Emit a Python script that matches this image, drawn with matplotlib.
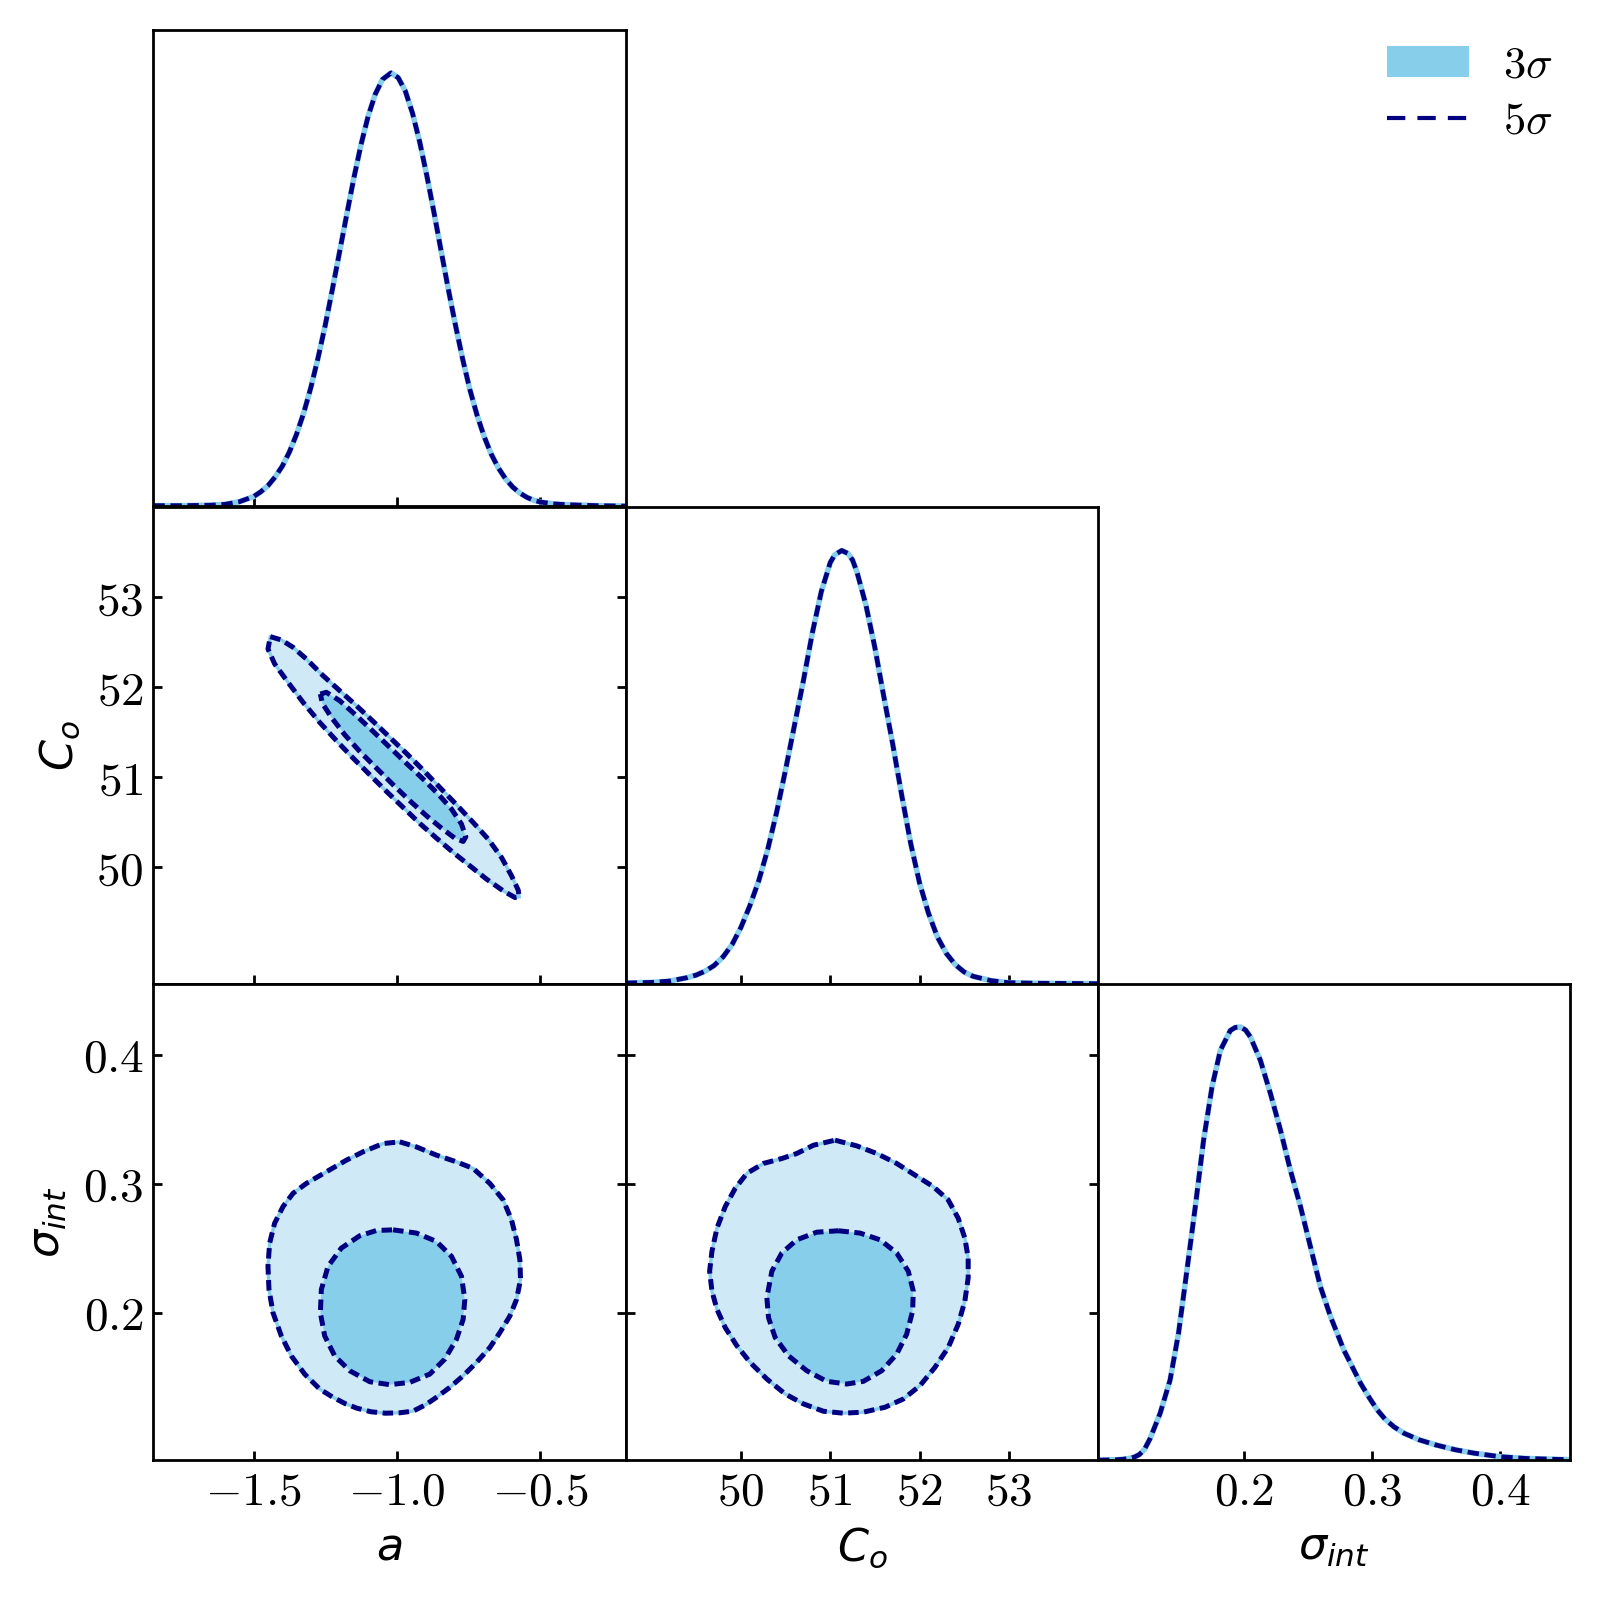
import matplotlib.pyplot as plt
from matplotlib.patches import Patch
from matplotlib.lines import Line2D

plt.rcParams['mathtext.fontset'] = 'cm'

# ---- 1D marginals (normalised to peak = 1) ----
a_vals = [-1.85, -1.75, -1.65, -1.60, -1.55, -1.50, -1.475, -1.45, -1.425, -1.40,
          -1.375, -1.35, -1.325, -1.30, -1.275, -1.25, -1.225, -1.20, -1.175, -1.15,
          -1.125, -1.10, -1.075, -1.05, -1.02, -0.995, -0.97, -0.945, -0.92, -0.895,
          -0.87, -0.845, -0.82, -0.795, -0.77, -0.745, -0.72, -0.695, -0.67, -0.645,
          -0.62, -0.595, -0.57, -0.545, -0.52, -0.495, -0.45, -0.40, -0.30, -0.20]
a_dens = [0.001, 0.001, 0.002, 0.004, 0.010, 0.022, 0.033, 0.047, 0.067, 0.092,
          0.125, 0.166, 0.215, 0.274, 0.342, 0.417, 0.50, 0.586, 0.672, 0.757,
          0.834, 0.90, 0.951, 0.985, 1.0, 0.989, 0.958, 0.907, 0.841, 0.763,
          0.678, 0.589, 0.501, 0.418, 0.34, 0.27, 0.211, 0.161, 0.12, 0.088,
          0.063, 0.044, 0.030, 0.020, 0.013, 0.009, 0.005, 0.003, 0.001, 0.0]

c_vals = [48.71, 49.0, 49.2, 49.4, 49.5, 49.6, 49.7, 49.8, 49.9, 50.0,
          50.1, 50.2, 50.3, 50.4, 50.5, 50.6, 50.7, 50.8, 50.9, 51.0,
          51.05, 51.129, 51.2, 51.25, 51.3, 51.4, 51.5, 51.6, 51.7, 51.8,
          51.9, 52.0, 52.1, 52.2, 52.3, 52.4, 52.5, 52.6, 52.8, 53.0,
          53.3, 54.0]
c_dens = [0.0015, 0.003, 0.006, 0.014, 0.02, 0.029, 0.042, 0.062, 0.09, 0.13,
          0.18, 0.238, 0.31, 0.396, 0.494, 0.597, 0.70, 0.81, 0.905, 0.972,
          0.99, 1.0, 0.993, 0.978, 0.95, 0.874, 0.776, 0.663, 0.553, 0.436,
          0.325, 0.233, 0.163, 0.108, 0.07, 0.044, 0.027, 0.017, 0.007, 0.0023,
          0.001, 0.0]

s_vals = [0.0857, 0.10, 0.105, 0.11, 0.114, 0.118, 0.122, 0.1264, 0.1342, 0.142,
          0.1486, 0.1552, 0.1617, 0.1682, 0.1748, 0.1813, 0.1891, 0.193, 0.197, 0.201,
          0.2048, 0.2126, 0.2205, 0.2283, 0.2361, 0.244, 0.2518, 0.2596, 0.2675, 0.2779,
          0.291, 0.298, 0.304, 0.31, 0.317, 0.325, 0.3367, 0.35, 0.365, 0.38,
          0.40, 0.42, 0.455]
s_dens = [0.0, 0.001, 0.002, 0.004, 0.007, 0.013, 0.025, 0.05, 0.108, 0.185,
          0.293, 0.439, 0.585, 0.739, 0.862, 0.946, 0.992, 0.999, 1.0, 0.993,
          0.977, 0.923, 0.846, 0.762, 0.669, 0.585, 0.492, 0.40, 0.331, 0.254,
          0.177, 0.143, 0.116, 0.095, 0.077, 0.062, 0.047, 0.035, 0.024, 0.016,
          0.008, 0.004, 0.001]

# ---- 2D contours: a vs C_o ----
ac_outer_a = [-1.4417, -1.4032, -1.3624, -1.3158, -1.2575, -1.1993, -1.141, -1.0827, -1.0245,
              -0.9662, -0.9079, -0.8496, -0.7913, -0.7331, -0.6806, -0.634, -0.599, -0.5757,
              -0.5722, -0.5874, -0.6282, -0.6865, -0.7447, -0.803, -0.8613, -0.9196, -0.9778,
              -1.0361, -1.0944, -1.1527, -1.2109, -1.2692, -1.3275, -1.3799, -1.4265, -1.4499]
ac_outer_c = [52.563, 52.526, 52.445, 52.315, 52.130, 51.963, 51.797, 51.623, 51.445,
              51.267, 51.082, 50.889, 50.697, 50.500, 50.315, 50.111, 49.908, 49.749,
              49.674, 49.667, 49.741, 49.871, 50.019, 50.167, 50.326, 50.489, 50.667,
              50.845, 51.030, 51.215, 51.408, 51.611, 51.834, 52.056, 52.260, 52.426]
ac_inner_a = [-1.2669, -1.2459, -1.1993, -1.141, -1.0827, -1.0245, -0.9662, -0.9079, -0.8554,
              -0.8088, -0.7739, -0.7587, -0.768, -0.7972, -0.8438, -0.8962, -0.9545, -1.0128,
              -1.0711, -1.1294, -1.1818, -1.2284, -1.2599]
ac_inner_c = [51.926, 51.945, 51.852, 51.686, 51.511, 51.334, 51.156, 50.982, 50.815,
              50.649, 50.482, 50.341, 50.289, 50.326, 50.437, 50.574, 50.741, 50.919,
              51.104, 51.289, 51.474, 51.667, 51.823]

# ---- 2D contours: a vs sigma_int ----
as_outer_a = [-0.9895, -0.9313, -0.8613, -0.7914, -0.7331, -0.6748, -0.6282, -0.5991, -0.5816,
              -0.5699, -0.5676, -0.5816, -0.6049, -0.6399, -0.6748, -0.7214, -0.7681, -0.8147,
              -0.8613, -0.90, -0.943, -0.99, -1.0395, -1.09, -1.1395, -1.18, -1.2227, -1.2692,
              -1.3217, -1.3683, -1.4033, -1.4324, -1.4464, -1.4499, -1.4441, -1.4266, -1.3974,
              -1.3625, -1.3159, -1.2459, -1.176, -1.1177, -1.0478]
as_outer_s = [0.3324, 0.3285, 0.3221, 0.3169, 0.3118, 0.3002, 0.2874, 0.2719, 0.2565,
              0.2411, 0.2257, 0.2102, 0.1974, 0.1845, 0.1730, 0.1614, 0.1511, 0.1421,
              0.1344, 0.1285, 0.1237, 0.1224, 0.1221, 0.1232, 0.1260, 0.1295, 0.1344, 0.1408,
              0.1524, 0.1665, 0.1820, 0.2000, 0.2180, 0.2359, 0.2539, 0.2694, 0.2822,
              0.2925, 0.3002, 0.3092, 0.3182, 0.3247, 0.3311]
as_inner_a = [-1.0128, -0.9312, -0.8613, -0.8089, -0.7739, -0.7623, -0.7681, -0.7914, -0.8322,
              -0.8846, -0.9546, -1.0245, -1.0944, -1.1643, -1.2168, -1.2518, -1.2669, -1.2634,
              -1.2401, -1.1935, -1.1294, -1.0711]
as_inner_s = [0.2642, 0.2617, 0.2552, 0.2437, 0.2282, 0.2102, 0.1948, 0.1794, 0.1640,
              0.1524, 0.1460, 0.1442, 0.1465, 0.1550, 0.1665, 0.1820, 0.2000, 0.2180,
              0.2359, 0.2501, 0.2596, 0.2637]

# ---- 2D contours: C_o vs sigma_int ----
cs_outer_c = [51.0544, 51.2967, 51.5203, 51.7439, 51.9489, 52.1539, 52.3216, 52.4334, 52.508,
              52.5452, 52.5452, 52.508, 52.4334, 52.3216, 52.1725, 52.0048, 51.8185, 51.6135,
              51.3712, 51.1476, 50.9239, 50.7003, 50.4953, 50.2903, 50.1040, 49.9549, 49.8244,
              49.7313, 49.6753, 49.6493, 49.6753, 49.7313, 49.8244, 49.9362, 50.0667, 50.2530,
              50.458, 50.6258, 50.8121]
cs_outer_s = [0.3337, 0.3293, 0.3234, 0.3157, 0.3067, 0.2977, 0.2874, 0.2732, 0.2578,
              0.2424, 0.2270, 0.2090, 0.1910, 0.1730, 0.1576, 0.1434, 0.1331, 0.1267,
              0.1229, 0.1221, 0.1236, 0.1293, 0.1370, 0.1486, 0.1614, 0.1743, 0.1884,
              0.2026, 0.2167, 0.2321, 0.2476, 0.2655, 0.2823, 0.2964, 0.3080, 0.3157,
              0.3195, 0.3234, 0.3298]
cs_inner_c = [51.0917, 51.3340, 51.5576, 51.7439, 51.8744, 51.9303, 51.9229, 51.8558, 51.7439,
              51.5762, 51.3712, 51.1849, 50.9613, 50.7376, 50.5326, 50.3836, 50.3090, 50.2903,
              50.3462, 50.4580, 50.6258, 50.8494]
cs_inner_s = [0.2635, 0.2617, 0.2565, 0.2463, 0.2321, 0.2167, 0.2013, 0.1833, 0.1678,
              0.1550, 0.1468, 0.1447, 0.1468, 0.1550, 0.1666, 0.1807, 0.1961, 0.2116,
              0.2321, 0.2463, 0.2565, 0.2624]

# axis ranges and ticks
a_lim = (-1.85, -0.20)
c_lim = (48.71, 54.0)
s_lim = (0.0857, 0.455)
a_ticks = [-1.5, -1.0, -0.5]
c_ticks = [50, 51, 52, 53]
s_ticks = [0.2, 0.3, 0.4]

light = '#cfeaf6'
mid = '#87ceeb'
navy = '#000080'
fs = 16
tfs = 17

fig = plt.figure(figsize=(8, 8), dpi=200)
x0, w, h = 0.0959, 0.2952, 0.2978
rows = [0.6837, 0.3852, 0.0874]


def style(ax, xt, xfmt, yt=None, yfmt=None, right=False):
    for s in ax.spines.values():
        s.set_linewidth(1.0)
    ax.tick_params(direction='in', length=3.3, width=1.0, right=right, top=False)
    ax.set_xticks(xt)
    ax.set_xticklabels([xfmt.format(v) for v in xt], fontsize=tfs)
    if yt is None:
        ax.set_yticks([])
    else:
        ax.set_yticks(yt)
        ax.set_yticklabels([yfmt.format(v) for v in yt], fontsize=tfs)


def marginal(ax, x, y, lim):
    ax.plot(x, y, color=mid, lw=2.0, solid_capstyle='butt')
    ax.plot(x, y, color=navy, lw=1.7, dashes=(2.4, 1.2))
    ax.set_xlim(lim)
    ax.set_ylim(0, 1.1)


def contours(ax, xo, yo, xi, yi):
    ax.fill(xo, yo, color=light, lw=0)
    ax.fill(xo, yo, fill=False, edgecolor=mid, lw=1.2)
    ax.fill(xi, yi, color=mid, lw=0)
    ax.plot(xo + xo[:1], yo + yo[:1], color=navy, lw=1.8, dashes=(2.1, 1.1))
    ax.plot(xi + xi[:1], yi + yi[:1], color=navy, lw=1.8, dashes=(2.1, 1.1))


ax11 = fig.add_axes([x0, rows[0], w, h])
ax21 = fig.add_axes([x0, rows[1], w, h])
ax22 = fig.add_axes([x0 + w, rows[1], w, h])
ax31 = fig.add_axes([x0, rows[2], w, h])
ax32 = fig.add_axes([x0 + w, rows[2], w, h])
ax33 = fig.add_axes([x0 + 2 * w, rows[2], w, h])

marginal(ax11, a_vals, a_dens, a_lim)
style(ax11, a_ticks, '')
ax11.set_xticklabels([])

contours(ax21, ac_outer_a, ac_outer_c, ac_inner_a, ac_inner_c)
ax21.set_xlim(a_lim)
ax21.set_ylim(c_lim)
style(ax21, a_ticks, '', c_ticks, '${:d}$', right=True)
ax21.set_xticklabels([])
ax21.set_ylabel(r'$C_o$', fontsize=fs, math_fontfamily='dejavusans', labelpad=5)

marginal(ax22, c_vals, c_dens, c_lim)
style(ax22, c_ticks, '')
ax22.set_xticklabels([])

contours(ax31, as_outer_a, as_outer_s, as_inner_a, as_inner_s)
ax31.set_xlim(a_lim)
ax31.set_ylim(s_lim)
style(ax31, a_ticks, '${:.1f}$', s_ticks, '${:.1f}$', right=True)
ax31.set_xlabel(r'$a$', fontsize=fs, math_fontfamily='dejavusans')
ax31.set_ylabel(r'$\sigma_{int}$', fontsize=fs, math_fontfamily='dejavusans', labelpad=5)

contours(ax32, cs_outer_c, cs_outer_s, cs_inner_c, cs_inner_s)
ax32.set_xlim(c_lim)
ax32.set_ylim(s_lim)
style(ax32, c_ticks, '${:d}$', s_ticks, '', right=True)
ax32.set_yticklabels([])
ax32.set_xlabel(r'$C_o$', fontsize=fs, math_fontfamily='dejavusans')

marginal(ax33, s_vals, s_dens, s_lim)
style(ax33, s_ticks, '${:.1f}$')
ax33.set_xlabel(r'$\sigma_{int}$', fontsize=fs, math_fontfamily='dejavusans')

handles = [Patch(facecolor=mid, edgecolor='none'),
           Line2D([], [], color=navy, lw=1.5, dashes=(4.4, 2.9))]
fig.legend(handles, [r'$3\sigma$', r'$5\sigma$'], loc='upper right',
           bbox_to_anchor=(0.995, 0.998), frameon=False, fontsize=fs,
           handlelength=1.85, handletextpad=0.75, labelspacing=0.29)

fig.savefig('out.png', dpi=200)
